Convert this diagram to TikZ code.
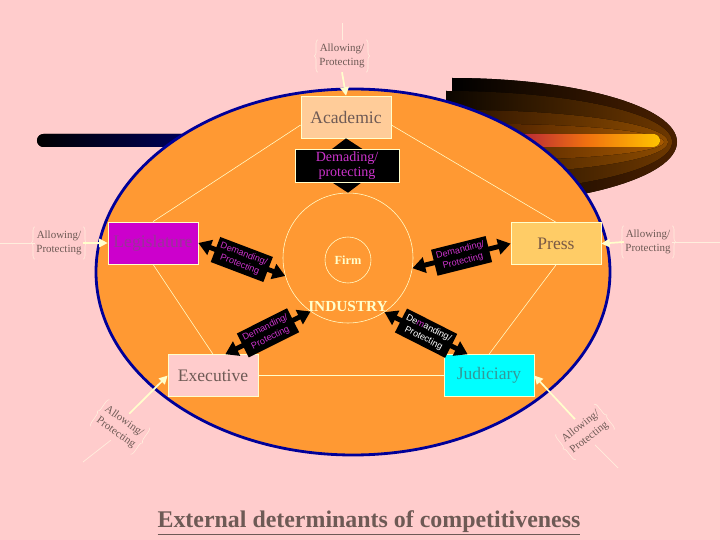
\documentclass[tikz,border=0pt]{standalone}
\usepackage{fontspec}
\setmainfont{Liberation Serif}
\newfontfamily\arialfont{Liberation Sans}
\usetikzlibrary{arrows.meta,decorations.pathreplacing}
\usepackage{xcolor}

\definecolor{bgpink}{HTML}{FFCCCC}
\definecolor{ovalorange}{HTML}{FF9933}
\definecolor{ovalblue}{HTML}{000099}
\definecolor{paleyel}{HTML}{FFFFCC}
\definecolor{bracecol}{HTML}{FFEEDD}
\definecolor{demmag}{HTML}{CC33CC}
\definecolor{greybrown}{HTML}{6E5A55}
\definecolor{legmag}{HTML}{CC00CC}
\definecolor{legtext}{HTML}{993399}
\definecolor{pressfill}{HTML}{FFCC66}
\definecolor{presstext}{HTML}{7A5A45}
\definecolor{acadfill}{HTML}{FFCC99}
\definecolor{judfill}{HTML}{00FFFF}
\definecolor{judtext}{HTML}{339999}
\definecolor{comet1}{HTML}{4A2000}
\definecolor{comet2}{HTML}{6E3800}
\definecolor{comet3}{HTML}{8E4C00}
\definecolor{comet4}{HTML}{A85A00}
\definecolor{barred}{HTML}{B01E3C}
\definecolor{barorange}{HTML}{F07010}
\definecolor{baryellow}{HTML}{FFC400}
\definecolor{barnavy}{HTML}{000066}

\begin{document}
\begin{tikzpicture}[
  box/.style={rectangle, draw=paleyel, line width=0.5pt, minimum width=2.25cm,
              minimum height=1.05cm, inner sep=0pt, font=\fontsize{12.5}{14}\selectfont},
  allow/.style={align=center, inner xsep=1pt, inner ysep=2pt, minimum width=1.1cm,
                minimum height=0.8cm, text=greybrown, font=\fontsize{7.8}{10}\selectfont},
  lblbrace/.style={draw=bracecol, line width=0.4pt, decorate,
                   decoration={brace, amplitude=2.5pt}},
  feed/.style={draw=bracecol, line width=0.5pt},
  push/.style={draw=paleyel, line width=1.2pt, -{Triangle[width=6pt,length=6pt]}},
  link/.style={draw=paleyel, line width=0.4pt},
  ring/.style={circle, draw=paleyel, line width=0.4pt, inner sep=0pt},
  demand/.style={draw=black, line width=3.5pt,
                 {Triangle[width=11pt,length=9pt]}-{Triangle[width=11pt,length=9pt]}},
  demlabel/.style={fill=black, text=demmag, align=center, inner xsep=2.5pt, inner ysep=2.5pt,
                   font=\arialfont\fontsize{6.5}{8}\selectfont},
  bigarrow/.style={draw=black, line width=12pt,
                   {Triangle[width=28pt,length=10pt]}-{Triangle[width=28pt,length=10pt]}},
  acadlabel/.style={fill=black, draw=paleyel, line width=0.5pt, text=demmag, align=center,
                    minimum width=2.6cm, minimum height=0.825cm, inner sep=1pt,
                    font=\fontsize{10}{10.6}\selectfont},
]
  \useasboundingbox (0,0) rectangle (18,13.5);
  \fill[bgpink] (0,0) rectangle (18,13.5);

  % Comet behind the oval
  \fill[left color=black, right color=comet1]
    (11.3,11.55) arc[start angle=90, end angle=-90, x radius=5.625, y radius=1.6] -- cycle;
  \fill[left color=black!90!comet2, right color=comet2]
    (11.15,11.225) arc[start angle=90, end angle=-90, x radius=5.65, y radius=1.275] -- cycle;
  \fill[left color=comet1!60!black, right color=comet3]
    (11.5,10.75) arc[start angle=90, end angle=-90, x radius=5.2, y radius=0.8] -- cycle;
  \fill[left color=comet1, right color=comet4]
    (12.3,10.4) arc[start angle=90, end angle=-90, x radius=4.3, y radius=0.45] -- cycle;
  \fill[left color=barred, right color=baryellow, middle color=barorange]
    (12.8,10.15) -- (16.3375,10.15) arc[start angle=90, end angle=-90, radius=0.1625]
    -- (12.8,9.825) -- cycle;

  % Dark bar on the left
  \fill[left color=black, right color=barnavy]
    (5.2,10.15) -- (1.0875,10.15) arc[start angle=90, end angle=270, radius=0.1625]
    -- (5.2,9.825) -- cycle;

  % Oval
  \draw[ovalblue, line width=2pt, fill=ovalorange]
    (8.825,6.7) ellipse[x radius=6.425, y radius=4.575];

  % Industry and firm
  \node[ring, minimum size=3.25cm] (industry) at (8.7,7.05) {};
  \node[ring, minimum size=1.15cm, text=paleyel, font=\bfseries\fontsize{8.8}{10}\selectfont]
    (firm) at (8.7,7.0) {Firm};
  \node[text=paleyel, font=\bfseries\fontsize{10.9}{12}\selectfont] (industrylbl)
    at (8.7,5.825) {INDUSTRY};

  % Actors
  \node[box, fill=acadfill, text=greybrown] (acad) at (8.65,10.575) {Academic};
  \node[box, fill=legmag, text=legtext] (leg) at (3.825,7.425) {Legislature};
  \node[box, fill=pressfill, text=presstext] (press) at (13.9,7.41) {Press};
  \node[box, fill=bgpink, text=greybrown] (exec) at (5.325,4.11) {Executive};
  \node[box, fill=judfill, text=judtext] (jud) at (12.225,4.11) {Judiciary};

  % Links between actors
  \draw[link] (leg.north) -- (acad.190);
  \draw[link] (acad.-10) -- (press.north);
  \draw[link] (press.south) -- (jud.north);
  \draw[link] (jud.west) -- (exec.east);
  \draw[link] (exec.north) -- (leg.south);

  % Demanding / protecting
  \draw[bigarrow] (acad.south) -- node[acadlabel] {Demading/\\protecting} (industry.north);
  \draw[demand] (leg.east) -- node[demlabel, sloped] {Demanding/\\Protecting} (industry.196);
  \draw[demand] (industry.-9) -- node[demlabel, sloped] {Demanding/\\Protecting} (press.west);
  \draw[demand] (exec.60) -- node[demlabel, sloped] {Demanding/\\Protecting} (industry.235);
  \draw[demand] (industry.-56) -- node[demlabel, sloped, text=white]
    {De\textcolor{demmag}{m}anding/\\Protecting} (jud.135);

  % Allowing / protecting from outside
  \node[allow] (topallow) at (8.55,12.1) {Allowing/\\Protecting};
  \node[allow] (leftallow) at (1.475,7.425) {Allowing/\\Protecting};
  \node[allow] (rightallow) at (16.2,7.45) {Allowing/\\Protecting};
  \node[allow, rotate=-35] (blallow) at (3.0,2.825) {Allowing/\\Protecting};
  \node[allow, rotate=38] (brallow) at (14.625,2.7) {Allowing/\\Protecting};

  \draw[lblbrace] (topallow.south west) -- (topallow.north west);
  \draw[lblbrace] (topallow.north east) -- (topallow.south east);
  \draw[lblbrace] (leftallow.south west) -- (leftallow.north west);
  \draw[lblbrace] (leftallow.north east) -- (leftallow.south east);
  \draw[lblbrace] (rightallow.south west) -- (rightallow.north west);
  \draw[lblbrace] (rightallow.north east) -- (rightallow.south east);
  \draw[lblbrace] (blallow.south west) -- (blallow.north west);
  \draw[lblbrace] (blallow.north east) -- (blallow.south east);
  \draw[lblbrace] (brallow.south west) -- (brallow.north west);
  \draw[lblbrace] (brallow.north east) -- (brallow.south east);

  \coordinate (topin) at (8.55,12.925);
  \coordinate (leftin) at (0,7.425);
  \coordinate (rightin) at (18,7.45);
  \coordinate (blin) at (2.075,1.95);
  \coordinate (brin) at (15.45,1.8);

  \draw[feed] (topin) -- (topallow.north);
  \draw[feed] (leftin) -- (leftallow.west);
  \draw[feed] (rightin) -- (rightallow.east);
  \draw[feed] (blin) -- (blallow.south);
  \draw[feed] (brin) -- (brallow.south);

  \draw[push] (topallow.south) -- (acad.north);
  \draw[push] (leftallow.east) -- (leg.west);
  \draw[push] (rightallow.west) -- (press.east);
  \draw[push] (blallow.north) -- (exec.west);
  \draw[push] (brallow.north) -- (jud.east);

  % Title
  \node[text=greybrown, font=\bfseries\fontsize{17}{20}\selectfont] (title) at (9.225,0.425)
    {\underline{External determinants of competitiveness}};
\end{tikzpicture}
\end{document}
